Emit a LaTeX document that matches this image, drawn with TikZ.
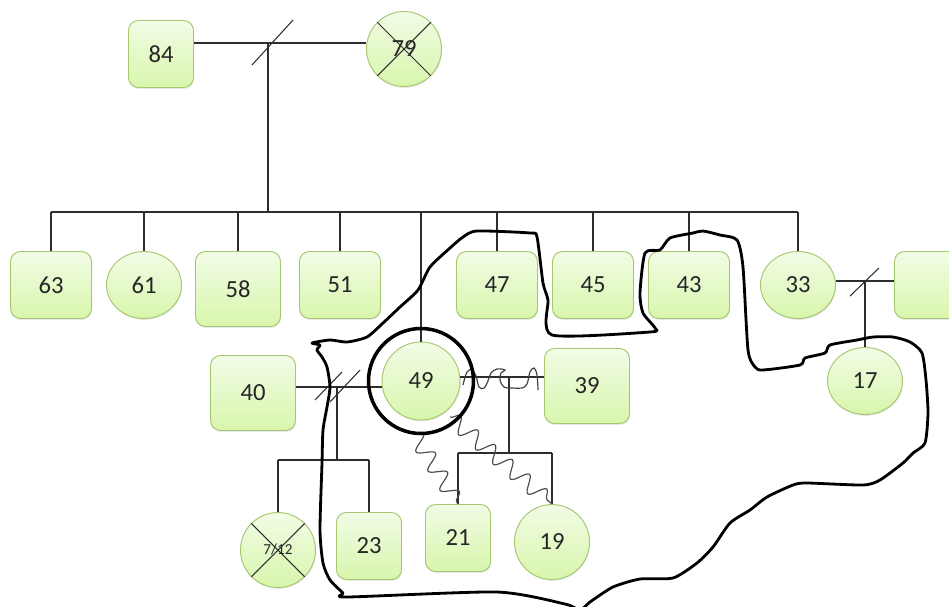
\documentclass[tikz,border=0pt]{standalone}
\usepackage{fontspec}
\setmainfont{Carlito}
\usetikzlibrary{shapes.geometric,shadows,decorations.pathmorphing}
\definecolor{verdeSu}{RGB}{242,252,230}
\definecolor{verdeGiu}{RGB}{216,246,172}
\definecolor{verdeBordo}{RGB}{165,200,110}
\definecolor{linea}{RGB}{45,45,45}
\tikzset{
  persona/.style={draw=verdeBordo, line width=0.8pt, top color=verdeSu, bottom color=verdeGiu,
    font=\fontsize{21}{25}\selectfont, text=black!85, inner sep=0pt,
    drop shadow={opacity=0.18, shadow xshift=0.5pt, shadow yshift=-1.2pt}},
  maschio/.style={persona, rectangle, rounded corners=0.3cm, minimum width=2.43cm, minimum height=2.01cm},
  grande/.style={minimum width=2.55cm, minimum height=2.25cm},
  piccolo/.style={minimum width=1.95cm, minimum height=2.01cm},
  femmina/.style={persona, ellipse, minimum width=2.25cm, minimum height=2.01cm},
  tondo/.style={femmina, minimum height=2.25cm},
  legame/.style={draw=linea, line width=0.9pt},
  ostile/.style={draw=black!70, line width=1pt, decorate,
    decoration={snake, segment length=0.68cm, amplitude=0.24cm}},
  contorno/.style={line width=2.4pt, line join=round}
}
\begin{document}
\begin{tikzpicture}[x=0.03cm, y=-0.03cm]
  \useasboundingbox (0,0) rectangle (949,606);
  \clip (0,0) rectangle (949,606);

  % Nonni
  \node[maschio, piccolo] (n84) at (161,54) {84};
  \node[tondo] (n79) at (404,49) {79};

  % Figli
  \node[maschio] (n63) at (51,285) {63};
  \node[femmina] (n61) at (144,285) {61};
  \node[maschio, grande] (n58) at (238,289) {58};
  \node[maschio] (n51) at (340,285) {51};
  \node[tondo, minimum width=2.34cm, minimum height=2.34cm] (n49) at (421,381) {49};
  \node[maschio] (n47) at (497,285) {47};
  \node[maschio] (n45) at (593,285) {45};
  \node[maschio] (n43) at (689,285) {43};
  \node[femmina] (n33) at (798,285) {33};
  \node[maschio] (nX) at (935,285) {};
  \node[femmina] (n17) at (865,381) {17};

  % Partner e nipoti
  \node[maschio, grande] (n40) at (253,393) {40};
  \node[maschio, grande] (n39) at (587,386) {39};
  \node[tondo, font=\fontsize{13}{15}\selectfont] (n712) at (278,550) {7/12};
  \node[maschio, piccolo] (n23) at (369,546) {23};
  \node[maschio, piccolo] (n21) at (458,538) {21};
  \node[tondo] (n19) at (552,542) {19};

  % Coppia in alto
  \coordinate (c1) at (268,43);
  \coordinate (f1) at (268,212);
  \draw[legame] (n84.east |- c1) -- (n79.west |- c1);
  \draw[legame] (c1) ++(-16,22) -- ++(41,-45);
  \draw[legame] (c1) -- (f1);
  \draw[legame] (n63.north |- f1) -- (n33.north |- f1);
  \foreach \n in {n63,n61,n58,n51,n49,n47,n45,n43,n33}
    \draw[legame] (\n.north |- f1) -- (\n.north);

  % 33 e compagno
  \coordinate (c4) at (865,281);
  \draw[legame] (n33.east |- c4) -- (nX.west |- c4);
  \draw[legame] (c4) ++(-15,15) -- ++(29,-28);
  \draw[legame] (c4) -- (n17.north);

  % 40 e 49, divorziati
  \coordinate (c2) at (337,387);
  \coordinate (f2) at (337,460);
  \draw[legame] (n40.east |- c2) -- (n49.west |- c2);
  \draw[legame] (c2) ++(-22,13) -- ++(27,-28);
  \draw[legame] (c2) ++(-7,15) -- ++(30,-32);
  \draw[legame] (c2) -- (f2);
  \draw[legame] (n712.north |- f2) -- (n23.north |- f2);
  \draw[legame] (n712.north |- f2) -- (n712.north);
  \draw[legame] (n23.north |- f2) -- (n23.north);

  % 49 e 39
  \coordinate (c3) at (509,377);
  \coordinate (f3) at (509,453);
  \draw[legame] (n49.east |- c3) -- (n39.west |- c3);
  \draw[legame] (c3) -- (f3);
  \draw[legame] (n21.north |- f3) -- (n19.north |- f3);
  \draw[legame] (n21.north |- f3) -- (n21.north);
  \draw[legame] (n19.north |- f3) -- (n19.north);

  % deceduti
  \foreach \n in {n79,n712} {
    \draw[legame] (\n.135) -- (\n.-45);
    \draw[legame] (\n.45) -- (\n.-135);
  }

  % conflitto e rapporti ostili
  \draw[black!75, line width=1pt] plot[smooth, tension=0.6] coordinates {(463,385) (467,372) (472,370) (476,376) (479,387) (484,388) (488,381) (491,373) (497,369) (505,370) (501,373) (500,380) (504,387) (513,388) (522,388) (527,384) (530,372) (534,368) (537,375) (538,390)};
  \coordinate (h1) at (413,432);
  \coordinate (h2) at (450,417);
  \draw[ostile] (h1) -- (n21.north);
  \draw[ostile] (h2) -- (n19.north);

  % paziente indice
  \node[draw, circle, line width=3pt, minimum size=3.15cm] (anello) at (n49) {};

  % confine tracciato a mano
  \draw[contorno] plot[smooth cycle, tension=0.4] coordinates {
    (312,343) (330,340) (347,342) (367,337) (383,323) (400,307) (418,290) (430,267)
    (450,248) (463,237) (477,231) (530,233) (537,237) (543,283) (548,300) (552,335)
    (650,332) (655,328) (643,313) (640,293) (645,253) (660,250) (670,238) (693,233)
    (703,231) (720,235) (737,240) (743,267) (748,350) (755,367) (763,370) (800,365)
    (805,358) (825,353) (830,345) (857,340) (873,337) (893,337) (910,342) (922,353)
    (926,380) (928,413) (925,443) (913,453) (903,463) (880,480) (863,485) (807,483)
    (793,485) (767,497) (750,510) (730,523) (713,547) (697,563) (673,578) (640,579)
    (613,587) (590,602) (580,610) (565,604) (497,592) (347,597) (343,593) (330,580)
    (323,563) (320,530) (322,463) (323,430) (327,407) (330,387) (327,367) (322,357)
    (317,350) (320,345)};
\end{tikzpicture}
\end{document}
